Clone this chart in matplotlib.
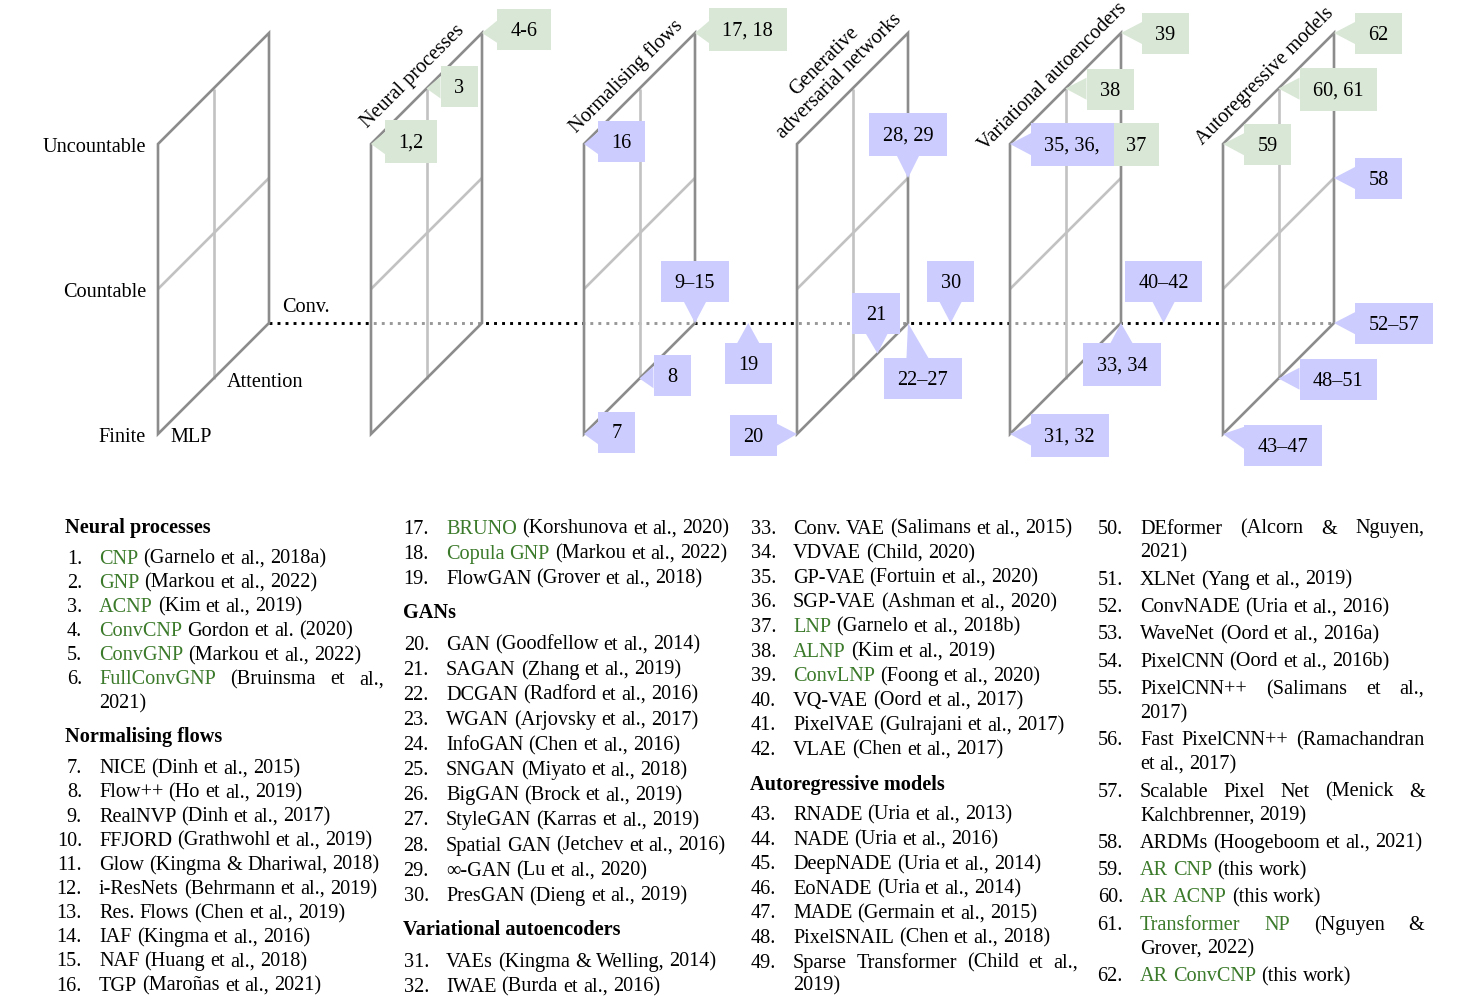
import matplotlib
matplotlib.use("Agg")
import matplotlib.pyplot as plt
from matplotlib.patches import Polygon, Rectangle

plt.rcParams['font.family'] = ['Liberation Serif', 'DejaVu Serif']

# ---------------- diagram data ----------------
panel_titles = ["", "Neural processes", "Normalising flows",
                "Generative\nadversarial networks",
                "Variational autoencoders", "Autoregressive models"]
card_labels = ["Finite", "Countable", "Uncountable"]
arch_labels = ["MLP", "Attention", "Conv."]

# callouts: label, group, position on the grid (panel, architecture, cardinality)
co_labels = ["1,2", "3", "4-6", "16", "17, 18", "9–15", "8", "7", "19",
             "28, 29", "30", "21", "22–27", "20",
             "35, 36,", "38", "39", "40–42", "33, 34", "31, 32",
             "62", "60, 61", "59", "58", "52–57", "48–51", "43–47"]
co_group = ["np", "np", "np", "gen", "np", "gen", "gen", "gen", "gen",
            "gen", "gen", "gen", "gen", "gen",
            "gen", "np", "np", "gen", "gen", "gen",
            "np", "np", "np", "gen", "gen", "gen", "gen"]
co_panel = [1, 1, 1, 2, 2, 2, 2, 2, 2.25,
            3, 3.2, 3, 3, 3,
            4, 4, 4, 4.2, 4, 4,
            5, 5, 5, 5, 5, 5, 5]
co_arch = [0, 1, 2, 0, 2, 2, 1, 0, 2,
           2, 2, 1.45, 2, 0,
           0, 1, 2, 2, 2, 0,
           2, 1, 0, 2, 2, 1, 0]
co_card = [2, 2, 2, 2, 2, 0, 0, 0, 0,
           1, 0, 0, 0, 0,
           2, 2, 2, 0, 0, 0,
           2, 2, 2, 1, 0, 0, 0]
# extra box glued to the right of "35, 36,"
co_extra = {"35, 36,": ("37", "np")}

# callout layout: pointer side, gap to tip, shift along the edge
co_side = ["left", "left", "left", "left", "left", "down", "left", "left", "up",
           "down", "down", "down", "up", "right",
           "left", "left", "left", "down", "up", "left",
           "left", "left", "left", "left", "left", "left", "left"]
co_gap = [14, 14, 15, 14, 14, 21, 14, 14, 20,
          22, 21, 20, 35, 20,
          21, 21, 21, 21, 20, 21,
          21, 21, 21, 21, 21, 21, 21]
co_shift = [-2.5, -2.5, -3.5, -2.5, -3.5, 0, -3, -2, 0,
            0, 0, -1.5, 15, 1.5,
            0.5, 0.5, 0, 0, 1, 1.5,
            0, 0.5, 0.5, 0, 0.5, 0.5, 11]

# ---------------- list data ----------------
green_names = {"CNP", "GNP", "ACNP", "ConvCNP", "ConvGNP", "FullConvGNP",
               "BRUNO", "Copula GNP", "LNP", "ALNP", "ConvLNP",
               "AR CNP", "AR ACNP", "Transformer NP", "AR ConvCNP"}

col1 = ["Neural processes",
        (1, "CNP", "(Garnelo et al., 2018a)"),
        (2, "GNP", "(Markou et al., 2022)"),
        (3, "ACNP", "(Kim et al., 2019)"),
        (4, "ConvCNP", "Gordon et al. (2020)"),
        (5, "ConvGNP", "(Markou et al., 2022)"),
        (6, "FullConvGNP", "(Bruinsma et al.,\n2021)"),
        "Normalising flows",
        (7, "NICE", "(Dinh et al., 2015)"),
        (8, "Flow++", "(Ho et al., 2019)"),
        (9, "RealNVP", "(Dinh et al., 2017)"),
        (10, "FFJORD", "(Grathwohl et al., 2019)"),
        (11, "Glow", "(Kingma & Dhariwal, 2018)"),
        (12, "i-ResNets", "(Behrmann et al., 2019)"),
        (13, "Res. Flows", "(Chen et al., 2019)"),
        (14, "IAF", "(Kingma et al., 2016)"),
        (15, "NAF", "(Huang et al., 2018)"),
        (16, "TGP", "(Maroñas et al., 2021)")]

col2 = [(17, "BRUNO", "(Korshunova et al., 2020)"),
        (18, "Copula GNP", "(Markou et al., 2022)"),
        (19, "FlowGAN", "(Grover et al., 2018)"),
        "GANs",
        (20, "GAN", "(Goodfellow et al., 2014)"),
        (21, "SAGAN", "(Zhang et al., 2019)"),
        (22, "DCGAN", "(Radford et al., 2016)"),
        (23, "WGAN", "(Arjovsky et al., 2017)"),
        (24, "InfoGAN", "(Chen et al., 2016)"),
        (25, "SNGAN", "(Miyato et al., 2018)"),
        (26, "BigGAN", "(Brock et al., 2019)"),
        (27, "StyleGAN", "(Karras et al., 2019)"),
        (28, "Spatial GAN", "(Jetchev et al., 2016)"),
        (29, "∞-GAN", "(Lu et al., 2020)"),
        (30, "PresGAN", "(Dieng et al., 2019)"),
        "Variational autoencoders",
        (31, "VAEs", "(Kingma & Welling, 2014)"),
        (32, "IWAE", "(Burda et al., 2016)")]

col3 = [(33, "Conv. VAE", "(Salimans et al., 2015)"),
        (34, "VDVAE", "(Child, 2020)"),
        (35, "GP-VAE", "(Fortuin et al., 2020)"),
        (36, "SGP-VAE", "(Ashman et al., 2020)"),
        (37, "LNP", "(Garnelo et al., 2018b)"),
        (38, "ALNP", "(Kim et al., 2019)"),
        (39, "ConvLNP", "(Foong et al., 2020)"),
        (40, "VQ-VAE", "(Oord et al., 2017)"),
        (41, "PixelVAE", "(Gulrajani et al., 2017)"),
        (42, "VLAE", "(Chen et al., 2017)"),
        "Autoregressive models",
        (43, "RNADE", "(Uria et al., 2013)"),
        (44, "NADE", "(Uria et al., 2016)"),
        (45, "DeepNADE", "(Uria et al., 2014)"),
        (46, "EoNADE", "(Uria et al., 2014)"),
        (47, "MADE", "(Germain et al., 2015)"),
        (48, "PixelSNAIL", "(Chen et al., 2018)"),
        (49, "Sparse Transformer", "(Child et al.,\n2019)")]

col4 = [(50, "DEformer", "(Alcorn & Nguyen,\n2021)"),
        (51, "XLNet", "(Yang et al., 2019)"),
        (52, "ConvNADE", "(Uria et al., 2016)"),
        (53, "WaveNet", "(Oord et al., 2016a)"),
        (54, "PixelCNN", "(Oord et al., 2016b)"),
        (55, "PixelCNN++", "(Salimans et al.,\n2017)"),
        (56, "Fast PixelCNN++", "(Ramachandran\net al., 2017)"),
        (57, "Scalable Pixel Net", "(Menick &\nKalchbrenner, 2019)"),
        (58, "ARDMs", "(Hoogeboom et al., 2021)"),
        (59, "AR CNP", "(this work)"),
        (60, "AR ACNP", "(this work)"),
        (61, "Transformer NP", "(Nguyen &\nGrover, 2022)"),
        (62, "AR ConvCNP", "(this work)")]

columns = [col1, col2, col3, col4]

# ---------------- layout / style ----------------
W, H = 1478, 1003
FS = 14.6
X0, Y0 = 158, 435
PANEL_STEP, ARCH_STEP, CARD_STEP = 213, 55.5, 145
BOX_COL = {"np": "#d9e7d6", "gen": "#ccccff"}
GREEN_TXT = "#3b7a2a"
EDGE = "#8c8c8c"
INNER = "#c2c2c2"
LBL_DY = 2.5   # nudge of diagram labels

item_x = [99, 446, 793, 1140]
head_x = [65, 403, 750, 1097]
col_w = 284.5
item_step = [24.15, 25.1, 24.6, 27.3]
wrap_step = [24, 24, 23, 24]
head_before = [35, 35.5, 36, 36]
head_after = [30, 30.5, 29, 29]
y_start = 526

fig = plt.figure(figsize=(W / 100, H / 100), dpi=100)
ax = fig.add_axes([0, 0, 1, 1])
ax.set_xlim(0, W)
ax.set_ylim(H, 0)
ax.axis('off')
renderer = fig.canvas.get_renderer()

_cache = {}


def measure(s, weight='normal'):
    key = (s, weight)
    if key not in _cache:
        t = ax.text(0, 0, s, fontsize=FS, fontweight=weight)
        _cache[key] = t.get_window_extent(renderer).width
        t.remove()
    return _cache[key]


SPACE = measure("a a") - measure("aa")


def grid_pt(panel, arch, card):
    x = X0 + panel * PANEL_STEP + arch * ARCH_STEP
    y = Y0 - arch * ARCH_STEP - card * CARD_STEP
    return x, y


##########################################
# planes

xa, ya = grid_pt(0, 2, 0)
xb, yb = grid_pt(5, 2, 0)
ax.plot([xa, xb], [ya, yb], color='black', lw=2.1, ls=(0, (1, 1.75)), zorder=1)

for p in range(6):
    corners = [grid_pt(p, 0, 0), grid_pt(p, 0, 2), grid_pt(p, 2, 2), grid_pt(p, 2, 0)]
    ax.add_patch(Polygon(corners, closed=True, fc='white', ec='none', alpha=0.6, zorder=2))
    # inner grid lines
    for a, b in [(grid_pt(p, 1, 0), grid_pt(p, 1, 2)), (grid_pt(p, 0, 1), grid_pt(p, 2, 1))]:
        ax.plot([a[0], b[0]], [a[1], b[1]], color=INNER, lw=1.9, zorder=3,
                solid_capstyle='butt')
    ax.add_patch(Polygon(corners, closed=True, fc='none', ec=EDGE, lw=1.9, zorder=4,
                         joinstyle='miter'))
    if panel_titles[p]:
        (x1, y1), (x2, y2) = grid_pt(p, 0, 2), grid_pt(p, 2, 2)
        off = 9
        ax.text((x1 + x2) / 2 - off * 0.707, (y1 + y2) / 2 - off * 0.707, panel_titles[p],
                rotation=45, rotation_mode='anchor', ha='center', va='bottom',
                multialignment='center', fontsize=FS)

# axis labels on the first plane
for c, lab in enumerate(card_labels):
    x, y = grid_pt(0, 0, c)
    ax.text(x - 12, y + LBL_DY, lab, ha='right', va='center', fontsize=FS)
x, y = grid_pt(0, 0, 0)
ax.text(x + 12, y + LBL_DY, arch_labels[0], ha='left', va='center', fontsize=FS)
x, y = grid_pt(0, 1, 0)
ax.text(x + 13.5, y + LBL_DY, arch_labels[1], ha='left', va='center', fontsize=FS)
x, y = grid_pt(0, 2, 0)
ax.text(x + 13, y - 19 + LBL_DY, arch_labels[2], ha='left', va='center', fontsize=FS)


##########################################
# callouts

def callout(label, color, tip, side, gap, shift, extra=None):
    bw = measure(label) + 27
    bh = 43 if ',' in label else 41
    tx, ty = tip
    if side == 'left':
        x0, y0 = tx + gap, ty + shift - bh / 2
    elif side == 'right':
        x0, y0 = tx - gap - bw, ty + shift - bh / 2
    elif side == 'down':
        x0, y0 = tx + shift - bw / 2, ty - gap - bh
    else:
        x0, y0 = tx + shift - bw / 2, ty + gap
    cx, cy = x0 + bw / 2, y0 + bh / 2
    dx, dy = tx - cx, ty - cy
    if side in ('left', 'right'):
        ex = x0 if side == 'left' else x0 + bw
        by = cy + (ex - cx) / dx * dy
        base = [(ex, by - 11), (ex, by + 11)]
    else:
        ey = y0 if side == 'up' else y0 + bh
        bx = cx + (ey - cy) / dy * dx
        base = [(bx - 11, ey), (bx + 11, ey)]
    ax.add_patch(Rectangle((x0, y0), bw, bh, fc=color, ec='none', zorder=5))
    ax.add_patch(Polygon([tip, base[0], base[1]], closed=True, fc=color, ec='none', zorder=5))
    ax.text(cx, cy + 1, label, ha='center', va='center', fontsize=FS, zorder=6)
    if extra is not None:
        elab, ecol = extra
        ew = measure(elab) + 25
        ax.add_patch(Rectangle((x0 + bw, y0), ew, bh, fc=ecol, ec='none', zorder=5))
        ax.text(x0 + bw + ew / 2, cy + 1, elab, ha='center', va='center', fontsize=FS,
                zorder=6)


for i, lab in enumerate(co_labels):
    tip = grid_pt(co_panel[i], co_arch[i], co_card[i])
    extra = None
    if lab in co_extra:
        extra = (co_extra[lab][0], BOX_COL[co_extra[lab][1]])
    callout(lab, BOX_COL[co_group[i]], tip, co_side[i], co_gap[i], co_shift[i], extra)


##########################################
# list of models

def draw_words(words, x, y, right=None):
    widths = [measure(w) for w, _ in words]
    gap = SPACE
    if right is not None and len(words) > 1:
        gap = (right - x - sum(widths)) / (len(words) - 1)
    for (w, c), wd in zip(words, widths):
        ax.text(x, y, w, color=c, fontsize=FS, ha='left', va='baseline')
        x += wd + gap


BASE = 7.5
for ci, col in enumerate(columns):
    y = y_start
    prev = None
    for k, entry in enumerate(col):
        if k > 0:
            if isinstance(entry, str):
                y += head_before[ci]
            elif isinstance(prev, str):
                y += head_after[ci]
            else:
                y += item_step[ci]
        if isinstance(entry, str):
            ax.text(head_x[ci], y + BASE - 1, entry, fontsize=FS, fontweight='bold',
                    ha='left', va='baseline')
        else:
            num, name, cite = entry
            ax.text(item_x[ci] - 17, y + BASE, f"{num}.", fontsize=FS,
                    ha='right', va='baseline')
            ncol = GREEN_TXT if name in green_names else 'black'
            lines = cite.split("\n")
            words = [(w, ncol) for w in name.split()] + [(w, 'black') for w in lines[0].split()]
            if len(lines) > 1:
                draw_words(words, item_x[ci], y + BASE, right=item_x[ci] + col_w)
                y += wrap_step[ci]
                draw_words([(w, 'black') for w in lines[1].split()], item_x[ci], y + BASE)
            else:
                draw_words(words, item_x[ci], y + BASE)
        prev = entry

fig.savefig("out.png", dpi=100, facecolor='white')
